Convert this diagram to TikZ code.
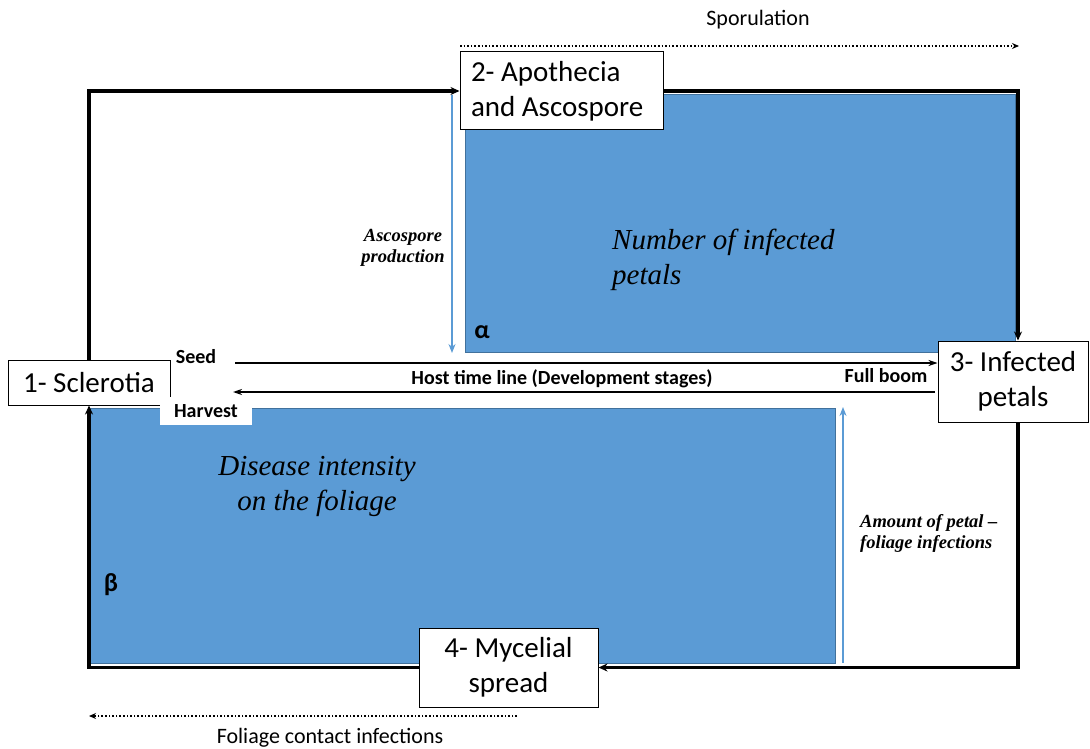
\documentclass[tikz,border=0pt]{standalone}
\usepackage{fontspec}
\setmainfont{Carlito}
\newfontfamily\tnr{Liberation Serif}
\usetikzlibrary{arrows.meta}
\definecolor{panel}{HTML}{5B9BD5}
\definecolor{paneledge}{HTML}{41719C}
\tikzset{
  stagebox/.style={draw=black, line width=1pt, fill=white, align=center, inner sep=0pt,
    font=\fontsize{29}{35}\selectfont},
  cycle/.style={line width=3.4pt, -{Stealth[length=9pt,width=8pt]}},
  timeline/.style={line width=1.3pt, -{Stealth[length=9pt,width=6pt]}},
  flow/.style={line width=1.3pt, panel, -{Stealth[length=9pt,width=7pt]}},
  spread/.style={line width=1.6pt, dotted, -{Stealth[length=7pt,width=6pt]}},
  panelbox/.style={fill=panel, draw=paneledge, line width=1pt},
  tag/.style={font=\fontsize{20}{24}\selectfont\bfseries, inner sep=0pt},
  note/.style={font=\tnr\itshape\bfseries\fontsize{18.5}{21}\selectfont, inner sep=0pt},
  big/.style={font=\tnr\itshape\fontsize{29}{35}\selectfont, inner sep=0pt},
  greek/.style={font=\fontsize{26}{28}\selectfont\bfseries, inner sep=0pt},
}
\begin{document}
\begin{tikzpicture}[x=1pt, y=-1pt]
\useasboundingbox (0,0) rectangle (1090,749);

% shaded panels
\draw[panelbox] (465,95) rectangle (1015,352);
\draw[panelbox] (90,408) rectangle (835,663);

% stage boxes
\node[stagebox, minimum width=162pt, minimum height=45pt] (b1) at (89,382.5) {1- Sclerotia};
\node[stagebox, align=flush left, text width=181pt, inner xsep=11pt, minimum height=78pt] (b2) at (561.5,91) {2- Apothecia\\and Ascospore};
\node[stagebox, minimum width=150pt, minimum height=81pt] (b3) at (1013,381.5) {3- Infected\\petals};
\node[stagebox, minimum width=179pt, minimum height=79pt] (b4) at (508.5,667.5) {4- Mycelial\\spread};

% disease cycle
\draw[cycle] (b1.north) |- (b2.west);
\draw[cycle] (b2.east) -| ([xshift=5pt]b3.north);
\draw[cycle] ([xshift=5pt]b3.south) |- (b4.east);
\draw[cycle] (b4.west) -| (b1.south);

% host time line
\node[tag] (seed) at (196,357) {Seed};
\node[tag, fill=white, minimum width=92pt, minimum height=28pt] (harvest) at (206,411) {Harvest};
\node[tag] (host) at (562,379) {Host time line (Development stages)};
\node[tag] (bloom) at (886,376) {Full boom};
\coordinate (seedend) at (235,363);
\coordinate (harvend) at (935,392);
\draw[timeline] (seedend) -- (b3.west |- seedend);
\draw[timeline] (harvend) -- (233,392);

% panel labels
\node[big, align=left, anchor=west] (petals) at (612,259.5) {Number of infected\\petals};
\node[big, align=center] (foliage) at (317,486.5) {Disease intensity\\on the foliage};
\node[greek] (alpha) at (482,332) {α};
\node[greek] (beta) at (111,585) {β};

% transfers between stages
\coordinate (asctop) at (452,95);
\coordinate (ascbot) at (452,353);
\draw[flow] (asctop) -- (ascbot);
\node[note, align=center] (asc) at (403,248) {Ascospore\\production};
\coordinate (petbot) at (843,663);
\coordinate (pettop) at (843,407);
\draw[flow] (petbot) -- (pettop);
\node[note, align=left, anchor=west] (amount) at (860,533.5) {Amount of petal –\\foliage infections};

% spread of inoculum
\coordinate (spA) at (460,46);
\coordinate (spB) at (1019,46);
\draw[spread] (spA) -- (spB);
\node[font=\fontsize{22}{26}\selectfont] (spor) at (758,20) {Sporulation};
\coordinate (fcA) at (517,716);
\coordinate (fcB) at (89,716);
\draw[spread] (fcA) -- (fcB);
\node[font=\fontsize{22}{26}\selectfont] (contact) at (330,738) {Foliage contact infections};
\end{tikzpicture}
\end{document}
